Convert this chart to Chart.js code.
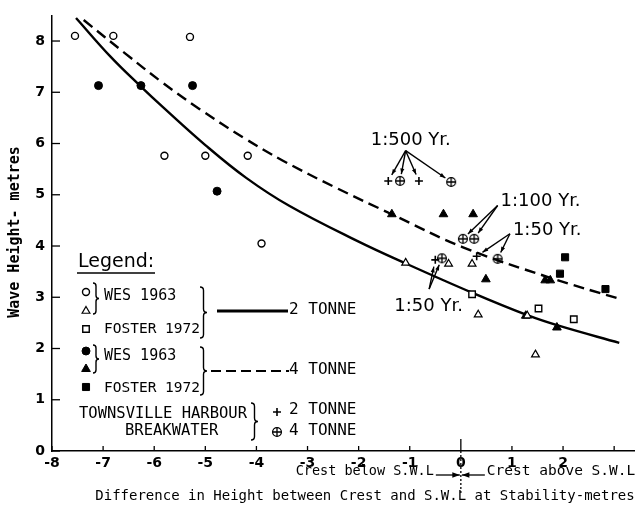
<!DOCTYPE html>
<html>
<head>
<meta charset="utf-8">
<script src="https://cdn.jsdelivr.net/npm/chart.js@4.4.0/dist/chart.umd.min.js"></script>
<style>
  html, body { margin: 0; padding: 0; background: #fff; }
</style>
</head>
<body>
<canvas id="waveChart" width="642" height="519"></canvas>
<script>
// axis ticks
const xTicks = [-8, -7, -6, -5, -4, -3, -2, -1, 0, 1, 2, 3]
const yTicks = [0, 1, 2, 3, 4, 5, 6, 7, 8]

// 2 tonne armour (open symbols)
const wesCircles2t = [[-7.55, 8.1], [-6.8, 8.1], [-5.3, 8.08], [-5.8, 5.76], [-5.0, 5.76], [-4.17, 5.76], [-3.9, 4.05]]
const wesTriangles2t = [[-1.08, 3.67], [-0.24, 3.65], [0.22, 3.65], [0.34, 2.66], [1.3, 2.64], [1.46, 1.88]]
const fosterSquares2t = [[0.22, 3.06], [1.52, 2.78], [2.21, 2.57]]

// 4 tonne armour (filled symbols)
const wesCircles4t = [[-7.09, 7.13], [-6.26, 7.13], [-5.25, 7.13], [-4.77, 5.07]]
const wesTriangles4t = [[-1.35, 4.62], [-0.34, 4.62], [0.24, 4.62], [0.49, 3.35], [1.65, 3.33], [1.75, 3.33], [1.27, 2.64], [1.88, 2.41]]
const fosterSquares4t = [[2.04, 3.78], [1.94, 3.46], [2.83, 3.16]]

// Townsville Harbour breakwater
const townsville2t = [[-1.42, 5.27], [-0.82, 5.27], [-0.5, 3.73], [0.31, 3.8]]
const townsville4t = [[-1.19, 5.27], [-0.19, 5.25], [0.04, 4.14], [0.26, 4.14], [-0.37, 3.76], [0.72, 3.75]]

// design curves
const curve2t = [[-7.53, 8.45], [-6.86, 7.7], [-6.28, 7.13], [-5.84, 6.72], [-5.0, 5.97], [-4.2, 5.33], [-3.35, 4.78],
  [-2.03, 4.1], [-1.08, 3.66], [0.24, 3.08], [1.3, 2.65], [1.93, 2.44], [3.1, 2.11]]
const curve4t = [[-7.38, 8.41], [-6.57, 7.76], [-5.84, 7.19], [-5.11, 6.67], [-4.23, 6.1], [-3.49, 5.67], [-2.47, 5.15],
  [-1.33, 4.61], [0.03, 3.98], [1.75, 3.38], [3.1, 2.97]]

// return period call-outs: label centre, arrow origin, arrow targets (data units)
const callouts = [
  { text: '1:500 Yr.', at: [-0.98, 6.06], from: [-1.08, 5.86], to: [[-1.42, 5.27], [-1.19, 5.27], [-0.82, 5.27], [-0.19, 5.25]] },
  { text: '1:100 Yr.', at: [1.56, 4.87], from: [0.72, 4.79], to: [[0.04, 4.14], [0.26, 4.14]] },
  { text: '1:50 Yr.', at: [1.69, 4.3], from: [0.96, 4.24], to: [[0.31, 3.8], [0.72, 3.75]] },
  { text: '1:50 Yr.', at: [-0.63, 2.83], from: [-0.62, 3.16], to: [[-0.5, 3.73], [-0.37, 3.76]] }
]

const mono = '"DejaVu Sans Mono", monospace'
const sans = '"DejaVu Sans", sans-serif'

// circle with a cross for the 4 tonne Townsville points
const oplus = document.createElement('canvas')
oplus.width = 12
oplus.height = 12
{
  const c = oplus.getContext('2d')
  c.strokeStyle = '#000'
  c.lineWidth = 1.3
  c.beginPath(); c.arc(6, 6, 4.4, 0, Math.PI * 2); c.stroke()
  c.beginPath(); c.moveTo(1.6, 6); c.lineTo(10.4, 6); c.moveTo(6, 1.6); c.lineTo(6, 10.4); c.stroke()
}

const toPts = arr => arr.map(([x, y]) => ({ x, y }))

function markSet(label, pts, style, radius, filled, bw) {
  return {
    label: label,
    data: toPts(pts),
    pointStyle: style,
    pointRadius: radius,
    backgroundColor: filled ? '#000' : '#fff',
    borderColor: '#000',
    borderWidth: bw || 1.4,
    order: 1
  }
}

function curveSet(label, pts, dash) {
  return {
    label: label,
    data: toPts(pts),
    showLine: true,
    pointRadius: 0,
    borderColor: '#000',
    borderWidth: 2.4,
    borderDash: dash,
    tension: 0.4,
    order: 5
  }
}

function brace(ctx, x, y1, y2, w) {
  const ym = (y1 + y2) / 2
  ctx.beginPath()
  ctx.moveTo(x, y1)
  ctx.quadraticCurveTo(x + w, y1, x + w, y1 + w)
  ctx.lineTo(x + w, ym - w)
  ctx.quadraticCurveTo(x + w, ym, x + 2 * w, ym)
  ctx.quadraticCurveTo(x + w, ym, x + w, ym + w)
  ctx.lineTo(x + w, y2 - w)
  ctx.quadraticCurveTo(x + w, y2, x, y2)
  ctx.stroke()
}

function arrow(ctx, x1, y1, x2, y2, head) {
  const a = Math.atan2(y2 - y1, x2 - x1)
  ctx.beginPath()
  ctx.moveTo(x1, y1)
  ctx.lineTo(x2, y2)
  ctx.stroke()
  ctx.beginPath()
  ctx.moveTo(x2, y2)
  ctx.lineTo(x2 - head * Math.cos(a - 0.35), y2 - head * Math.sin(a - 0.35))
  ctx.lineTo(x2 - head * Math.cos(a + 0.35), y2 - head * Math.sin(a + 0.35))
  ctx.closePath()
  ctx.fill()
}

function legendMark(ctx, style, radius, filled, x, y, bw) {
  ctx.save()
  ctx.fillStyle = filled ? '#000' : '#fff'
  ctx.strokeStyle = '#000'
  ctx.lineWidth = bw || 1.4
  Chart.helpers.drawPoint(ctx, { pointStyle: style, radius: radius, borderWidth: bw || 1.4, rotation: 0 }, x, y)
  ctx.restore()
}

const whiteBg = {
  id: 'whiteBg',
  beforeDraw(chart) {
    const ctx = chart.ctx
    ctx.save()
    ctx.fillStyle = '#fff'
    ctx.fillRect(0, 0, chart.width, chart.height)
    ctx.restore()
  }
}

const decorations = {
  id: 'decorations',
  afterDraw(chart) {
    const ctx = chart.ctx
    const xs = chart.scales.x
    const ys = chart.scales.y
    const area = chart.chartArea
    ctx.save()
    ctx.strokeStyle = '#000'
    ctx.fillStyle = '#000'

    // inward tick marks
    ctx.lineWidth = 1.3
    xTicks.forEach(v => {
      const px = xs.getPixelForValue(v)
      ctx.beginPath()
      ctx.moveTo(px, area.bottom)
      ctx.lineTo(px, area.bottom - (v === 0 ? 12 : 5))
      ctx.stroke()
    })
    yTicks.forEach(v => {
      const py = ys.getPixelForValue(v)
      ctx.beginPath()
      ctx.moveTo(area.left, py)
      ctx.lineTo(area.left + 8, py)
      ctx.stroke()
    })

    // zero divider below the axis with the two arrows
    const zx = xs.getPixelForValue(0)
    ctx.setLineDash([2, 2])
    ctx.beginPath()
    ctx.moveTo(zx, area.bottom)
    ctx.lineTo(zx, area.bottom + 42)
    ctx.stroke()
    ctx.setLineDash([])
    arrow(ctx, zx - 25, area.bottom + 24, zx - 1, area.bottom + 24, 8)
    arrow(ctx, zx + 24, area.bottom + 24, zx + 1, area.bottom + 24, 8)

    // axis titles
    ctx.font = '13.5px ' + mono
    ctx.textBaseline = 'middle'
    ctx.textAlign = 'right'
    ctx.fillText('Crest below S.W.L', zx - 27, area.bottom + 20)
    ctx.textAlign = 'left'
    ctx.font = '14.5px ' + mono
    ctx.fillText('Crest above S.W.L', zx + 26, area.bottom + 20)
    ctx.font = '14px ' + mono
    ctx.textAlign = 'center'
    ctx.fillText('Difference in Height between Crest and S.W.L at Stability-metres', 365, area.bottom + 45)

    ctx.save()
    ctx.translate(15, 232)
    ctx.rotate(-Math.PI / 2)
    ctx.font = 'bold 15px ' + mono
    ctx.fillText('Wave Height- metres', 0, 0)
    ctx.restore()

    // return period call-outs
    ctx.font = '18px ' + sans
    ctx.lineWidth = 1.4
    callouts.forEach(c => {
      ctx.textAlign = 'center'
      ctx.fillText(c.text, xs.getPixelForValue(c.at[0]), ys.getPixelForValue(c.at[1]))
      const fx = xs.getPixelForValue(c.from[0])
      const fy = ys.getPixelForValue(c.from[1])
      c.to.forEach(t => {
        const tx = xs.getPixelForValue(t[0])
        const ty = ys.getPixelForValue(t[1])
        const d = Math.hypot(tx - fx, ty - fy)
        const k = (d - 7) / d
        arrow(ctx, fx, fy, fx + (tx - fx) * k, fy + (ty - fy) * k, 6)
      })
    })

    // hand drawn legend block
    ctx.textAlign = 'left'
    ctx.font = '19px ' + sans
    ctx.fillText('Legend:', 78, 262)
    ctx.lineWidth = 1.5
    ctx.beginPath(); ctx.moveTo(77, 273); ctx.lineTo(155, 273); ctx.stroke()

    legendMark(ctx, 'circle', 3.5, false, 86, 292)
    legendMark(ctx, 'triangle', 4.5, false, 86, 311, 1.2)
    legendMark(ctx, 'rect', 4.6, false, 86, 329)
    legendMark(ctx, 'circle', 4, true, 86, 351, 1)
    legendMark(ctx, 'triangle', 5, true, 86, 369, 1)
    legendMark(ctx, 'rect', 5, true, 86, 387, 1)
    legendMark(ctx, 'cross', 4, false, 277, 412, 1.6)
    ctx.drawImage(oplus, 271, 426)

    ctx.lineWidth = 1.4
    brace(ctx, 93, 283, 314, 3)
    brace(ctx, 200, 287, 338, 3.5)
    brace(ctx, 93, 345, 373, 3)
    brace(ctx, 200, 347, 395, 3.5)
    brace(ctx, 251, 403, 440, 3.5)

    ctx.font = '15px ' + mono
    ctx.fillText('WES 1963', 104, 296)
    ctx.fillText('WES 1963', 104, 356)
    ctx.font = '14.5px ' + mono
    ctx.fillText('FOSTER 1972', 104, 329)
    ctx.fillText('FOSTER 1972', 104, 388)
    ctx.font = '15.5px ' + mono
    ctx.fillText('TOWNSVILLE HARBOUR', 79, 414)
    ctx.fillText('BREAKWATER', 125, 431)

    ctx.lineWidth = 3
    ctx.beginPath(); ctx.moveTo(217, 311); ctx.lineTo(288, 311); ctx.stroke()
    ctx.lineWidth = 2
    ctx.setLineDash([10, 5])
    ctx.beginPath(); ctx.moveTo(211, 371); ctx.lineTo(289, 371); ctx.stroke()
    ctx.setLineDash([])

    ctx.font = '16px ' + mono
    ctx.fillText('2 TONNE', 289, 310)
    ctx.fillText('4 TONNE', 289, 370)
    ctx.fillText('2 TONNE', 289, 410)
    ctx.fillText('4 TONNE', 289, 431)
    ctx.restore()
  }
}

const tickFont = { family: sans, size: 14, weight: 'bold' }

new Chart(document.getElementById('waveChart'), {
  type: 'scatter',
  data: {
    datasets: [
      curveSet('2 tonne', curve2t, []),
      curveSet('4 tonne', curve4t, [11, 6]),
      markSet('WES 1963 (2 t)', wesCircles2t, 'circle', 3.5, false),
      markSet('WES 1963 (2 t)', wesTriangles2t, 'triangle', 4.5, false, 1.2),
      markSet('Foster 1972 (2 t)', fosterSquares2t, 'rect', 4.6, false),
      markSet('WES 1963 (4 t)', wesCircles4t, 'circle', 4, true, 1),
      markSet('WES 1963 (4 t)', wesTriangles4t, 'triangle', 5, true, 1),
      markSet('Foster 1972 (4 t)', fosterSquares4t, 'rect', 5, true, 1),
      markSet('Townsville 2 t', townsville2t, 'cross', 4, false, 1.6),
      markSet('Townsville 4 t', townsville4t, oplus, 6, false)
    ]
  },
  options: {
    responsive: false,
    animation: false,
    events: [],
    layout: { padding: { top: 4, right: 0, left: 0, bottom: 0 } },
    plugins: { legend: { display: false }, tooltip: { enabled: false } },
    scales: {
      x: {
        type: 'linear',
        min: -8,
        max: 3.4,
        afterFit: s => { s.height = 68 },
        grid: { display: true, drawOnChartArea: false, drawTicks: false },
        border: { display: true, color: '#000', width: 1.5 },
        ticks: {
          stepSize: 1,
          autoSkip: false,
          maxRotation: 0,
          padding: 4,
          color: '#000',
          font: tickFont,
          callback: v => Number.isInteger(v) ? String(v) : ''
        }
      },
      y: {
        type: 'linear',
        min: 0,
        max: 8.5,
        afterFit: s => { s.width = 52 },
        grid: { display: true, drawOnChartArea: false, drawTicks: false },
        border: { display: true, color: '#000', width: 1.5 },
        ticks: {
          stepSize: 1,
          autoSkip: false,
          padding: 7,
          color: '#000',
          font: tickFont,
          callback: v => Number.isInteger(v) ? String(v) : ''
        }
      }
    }
  },
  plugins: [whiteBg, decorations]
})
</script>
</body>
</html>
